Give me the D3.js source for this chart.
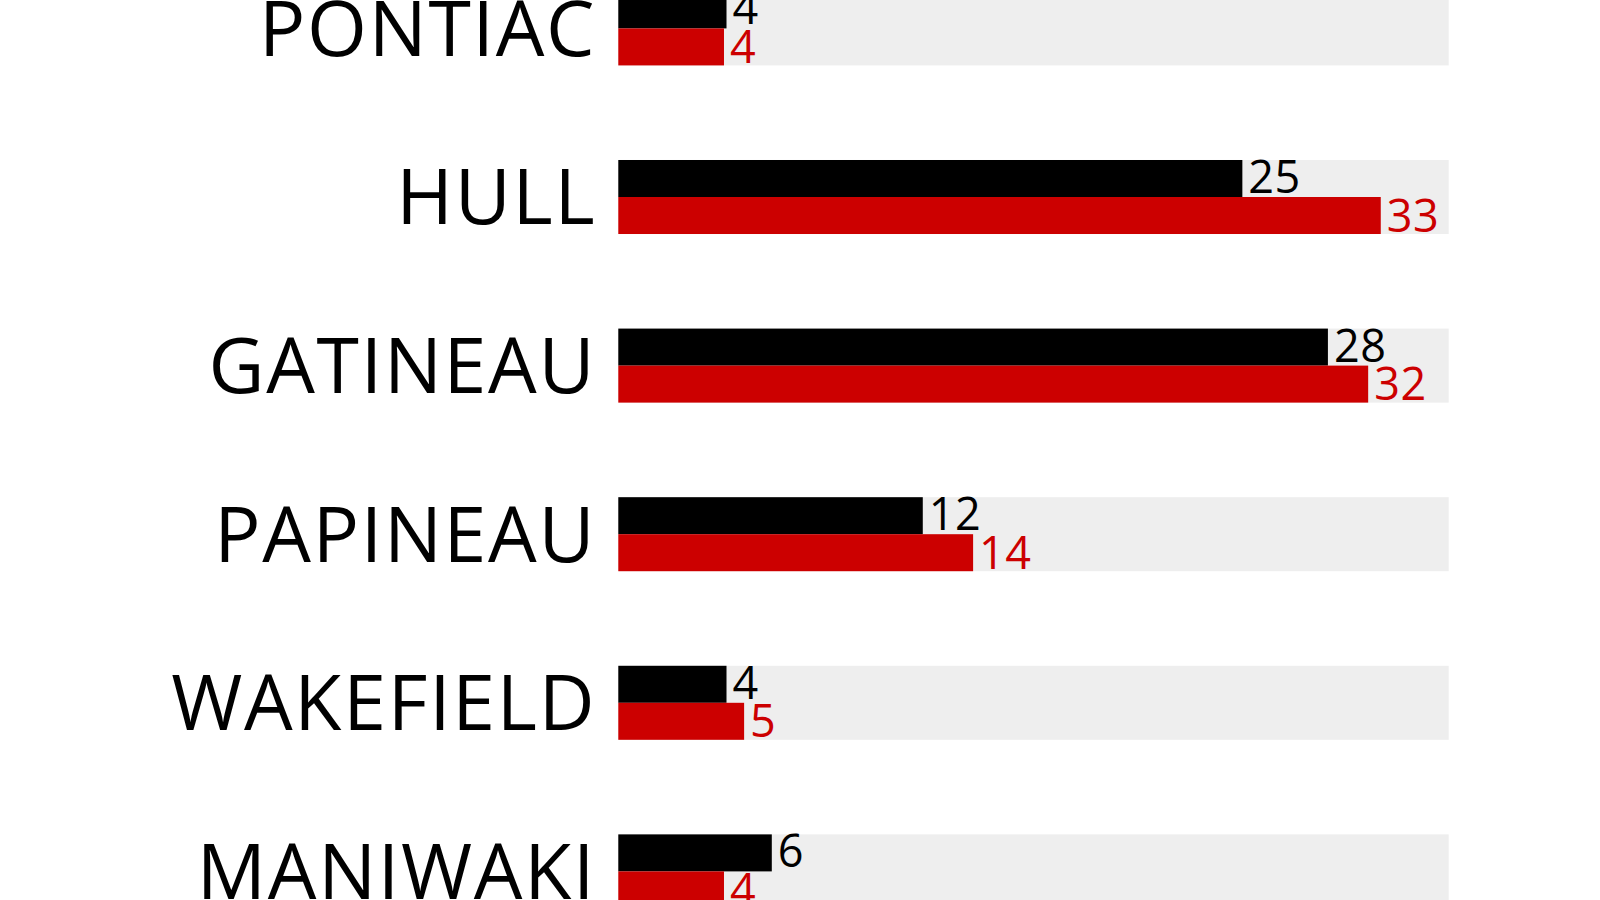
<!DOCTYPE html>
<html>
<head>
<meta charset="utf-8">
<script src="https://cdn.jsdelivr.net/npm/d3@7"></script>
<style>
	body { margin: 0; background: #fff; }
	svg { display: block; }
	.name { font-family: "Open Sans", sans-serif; font-size: 77px; letter-spacing: 1.7px; fill: #000; }
	.value { font-family: "Open Sans", sans-serif; font-size: 45px; letter-spacing: 0.5px; }
</style>
</head>
<body>
<div id="chart"></div>
<script>
// districts, top to bottom
var districts = ["PONTIAC", "HULL", "GATINEAU", "PAPINEAU", "WAKEFIELD", "MANIWAKI"];

// numbers printed next to the bars
var blackVals = [4, 25, 28, 12, 4, 6];
var redVals = [4, 33, 32, 14, 5, 4];

// bar lengths (same units)
var blackLen = [4.3, 24.8, 28.2, 12.1, 4.3, 6.1];
var redLen = [4.2, 30.3, 29.8, 14.1, 5.0, 4.2];

makeChart();

function makeChart() {

	var width = 1600,
		height = 900;

	var data = districts.map(function (d, i) {
		return {
			name: d,
			series: [
				{key: "black", value: blackVals[i], len: blackLen[i]},
				{key: "red", value: redVals[i], len: redLen[i]}
			]
		};
	});

	// x scale, grey track covers the whole domain
	var xMax = d3.max(redVals.concat(blackVals));
	var x = d3.scaleLinear()
		.domain([0, xMax])
		.range([618.3, 1448.7]);

	// one band per district
	var y = d3.scaleBand()
		.domain(districts)
		.range([-8.6, 908.4])
		.paddingInner(0.561)
		.paddingOuter(0);

	// two bars inside each band
	var ySub = d3.scaleBand()
		.domain(["black", "red"])
		.range([0, y.bandwidth()]);

	var colour = d3.scaleOrdinal()
		.domain(["black", "red"])
		.range(["#000000", "#cc0000"]);

	var svg = d3.select("#chart")
		.append("svg")
		.attr("width", width)
		.attr("height", height);

	var rows = svg.selectAll("g.row")
		.data(data)
		.enter()
		.append("g")
		.attr("class", "row")
		.attr("transform", function (d) {
			return "translate(0," + y(d.name) + ")";
		});

	// grey track
	rows.append("rect")
		.attr("x", x(0))
		.attr("y", 0)
		.attr("width", x(xMax) - x(0))
		.attr("height", y.bandwidth())
		.attr("fill", "#eeeeee");

	// district name
	rows.append("text")
		.attr("class", "name")
		.attr("x", x(0) - 22)
		.attr("y", y.bandwidth() / 2)
		.attr("dy", "0.357em")
		.attr("text-anchor", "end")
		.text(function (d) { return d.name; });

	// bars
	rows.selectAll("rect.bar")
		.data(function (d) { return d.series; })
		.enter()
		.append("rect")
		.attr("class", "bar")
		.attr("x", x(0))
		.attr("y", function (d) { return ySub(d.key); })
		.attr("width", function (d) { return x(d.len) - x(0); })
		.attr("height", ySub.bandwidth())
		.attr("fill", function (d) { return colour(d.key); });

	// values
	rows.selectAll("text.value")
		.data(function (d) { return d.series; })
		.enter()
		.append("text")
		.attr("class", "value")
		.attr("x", function (d) { return x(d.len) + 6; })
		.attr("y", function (d) {
			return ySub(d.key) + ySub.bandwidth() / 2 + (d.key === "black" ? -1.5 : 0);
		})
		.attr("dy", "0.357em")
		.attr("fill", function (d) { return colour(d.key); })
		.text(function (d) { return d.value; });

}
</script>
</body>
</html>
